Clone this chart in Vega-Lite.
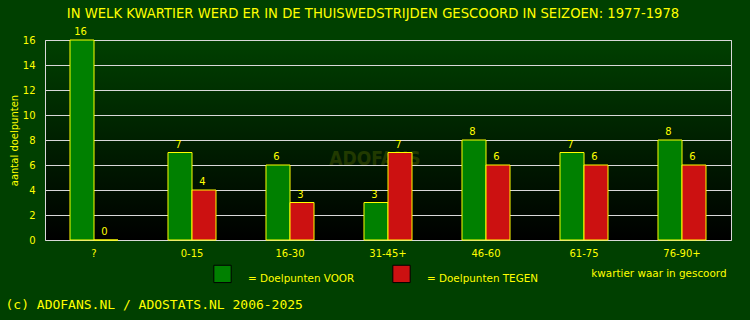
{
  "$schema": "https://vega.github.io/schema/vega-lite/v6.json",
  "width": 686,
  "height": 200,
  "autosize": "none",
  "padding": {"left": 45, "top": 40, "right": 19, "bottom": 80},
  "background": "#004000",
  "title": {
    "text": "IN WELK KWARTIER WERD ER IN DE THUISWEDSTRIJDEN GESCOORD IN SEIZOEN: 1977-1978",
    "color": "#ffff00",
    "font": "DejaVu Sans",
    "fontSize": 13.2,
    "fontWeight": "normal",
    "anchor": "middle",
    "dx": -15,
    "offset": 6
  },
  "layer": [
    {
      "data": {"values": [{"merk": "ADOFANS"}]},
      "mark": {"type": "text", "color": "#ffff00", "opacity": 0.13, "font": "DejaVu Sans Condensed", "fontWeight": "bold", "fontSize": 19, "baseline": "middle", "dx": -13},
      "encoding": {
        "x": {
          "field": "merk", "type": "nominal",
          "axis": {
            "orient": "bottom",
            "labels": false, "ticks": false, "domain": false, "grid": false,
            "title": "(c) ADOFANS.NL / ADOSTATS.NL 2006-2025", "titleColor": "#ffff00",
            "titleFont": "DejaVu Sans Mono", "titleFontSize": 13, "titleFontWeight": "normal",
            "titleAlign": "left", "titleAnchor": "start", "titleX": -40, "titleY": 64, "titleBaseline": "middle"
          }
        },
        "y": {
          "datum": 6.5, "type": "quantitative",
          "scale": {"domain": [0, 16], "nice": false},
          "axis": {
            "values": [0, 2, 4, 6, 8, 10, 12, 14, 16],
            "labelColor": "#ffff00", "labelFont": "DejaVu Sans", "labelFontSize": 10, "labelPadding": 10,
            "ticks": false, "domain": false, "grid": true, "gridColor": "#d8d8d8", "gridOpacity": 1,
            "title": "aantal doelpunten", "titleColor": "#ffff00", "titleFont": "DejaVu Sans",
            "titleFontSize": 10, "titleFontWeight": "normal", "titlePadding": 3
          }
        },
        "text": {"field": "merk"}
      }
    },
    {
      "data": {
        "values": [
          {"kwartier": "?", "soort": "VOOR", "doelpunten": 16},
          {"kwartier": "?", "soort": "TEGEN", "doelpunten": 0},
          {"kwartier": "0-15", "soort": "VOOR", "doelpunten": 7},
          {"kwartier": "0-15", "soort": "TEGEN", "doelpunten": 4},
          {"kwartier": "16-30", "soort": "VOOR", "doelpunten": 6},
          {"kwartier": "16-30", "soort": "TEGEN", "doelpunten": 3},
          {"kwartier": "31-45+", "soort": "VOOR", "doelpunten": 3},
          {"kwartier": "31-45+", "soort": "TEGEN", "doelpunten": 7},
          {"kwartier": "46-60", "soort": "VOOR", "doelpunten": 8},
          {"kwartier": "46-60", "soort": "TEGEN", "doelpunten": 6},
          {"kwartier": "61-75", "soort": "VOOR", "doelpunten": 7},
          {"kwartier": "61-75", "soort": "TEGEN", "doelpunten": 6},
          {"kwartier": "76-90+", "soort": "VOOR", "doelpunten": 8},
          {"kwartier": "76-90+", "soort": "TEGEN", "doelpunten": 6}
        ]
      },
      "encoding": {
        "x": {
          "field": "kwartier", "type": "nominal",
          "sort": ["?", "0-15", "16-30", "31-45+", "46-60", "61-75", "76-90+"],
          "scale": {"paddingInner": 0.51, "paddingOuter": 0.255},
          "axis": {
            "orient": "bottom",
            "labelAngle": 0, "labelColor": "#ffff00", "labelFont": "DejaVu Sans", "labelFontSize": 10,
            "labelPadding": 8, "ticks": false, "domain": false, "grid": false,
            "title": "kwartier waar in gescoord", "titleColor": "#ffff00", "titleFont": "DejaVu Sans",
            "titleFontSize": 10.4, "titleFontWeight": "normal", "titleAlign": "right", "titleAnchor": "start",
            "titleX": 681, "titleY": 33, "titleBaseline": "middle"
          }
        },
        "xOffset": {"field": "soort", "type": "nominal", "sort": ["VOOR", "TEGEN"]},
        "y": {
          "field": "doelpunten", "type": "quantitative",
          "scale": {"domain": [0, 16], "nice": false},
          "axis": {
            "values": [0, 2, 4, 6, 8, 10, 12, 14, 16],
            "labelColor": "#ffff00", "labelFont": "DejaVu Sans", "labelFontSize": 10, "labelPadding": 10,
            "ticks": false, "domain": false, "grid": true, "gridColor": "#d8d8d8", "gridOpacity": 1,
            "title": "aantal doelpunten", "titleColor": "#ffff00", "titleFont": "DejaVu Sans",
            "titleFontSize": 10, "titleFontWeight": "normal", "titlePadding": 3
          }
        }
      },
      "layer": [
        {
          "mark": {"type": "bar", "stroke": "#ffff00", "strokeWidth": 1},
          "encoding": {
            "color": {
              "field": "soort", "type": "nominal",
              "scale": {"domain": ["VOOR", "TEGEN"], "range": ["#008000", "#cc1111"]},
              "legend": {
                "orient": "none", "legendX": 168, "legendY": 224, "direction": "horizontal",
                "title": null, "labelExpr": "'= Doelpunten ' + datum.label",
                "labelColor": "#ffff00", "labelFont": "DejaVu Sans", "labelFontSize": 10.4, "labelOffset": 16,
                "labelBaseline": "top",
                "columnPadding": 35, "symbolType": "square", "symbolSize": 300,
                "symbolStrokeColor": "#000000", "symbolStrokeWidth": 1, "symbolOpacity": 1
              }
            }
          }
        },
        {
          "mark": {"type": "text", "baseline": "alphabetic", "dy": -5, "dx": -1.5, "color": "#ffff00", "font": "DejaVu Sans", "fontSize": 10},
          "encoding": {
            "text": {"field": "doelpunten", "type": "quantitative"}
          }
        }
      ]
    }
  ],
  "resolve": {"scale": {"x": "independent"}, "axis": {"x": "independent"}},
  "config": {
    "view": {
      "stroke": "#d8d8d8",
      "fill": {
        "gradient": "linear", "x1": 0, "y1": 0, "x2": 0, "y2": 1,
        "stops": [{"offset": 0, "color": "#004000"}, {"offset": 1, "color": "#000000"}]
      }
    }
  }
}
